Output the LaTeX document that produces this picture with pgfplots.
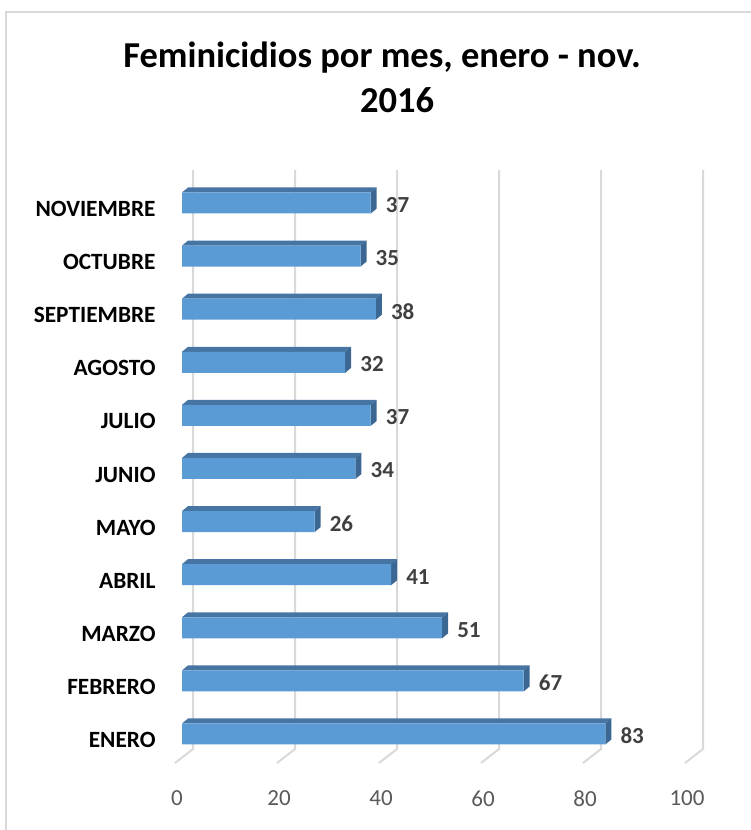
\documentclass[border=0pt]{standalone}
\usepackage{pgfplots}
\usepackage{pgfplotstable}
\pgfplotsset{compat=1.18}
\usepackage{fontspec}
\setmainfont{Carlito}
\definecolor{frontc}{HTML}{5B9BD5}
\definecolor{topc}{HTML}{4674A3}
\definecolor{sidec}{HTML}{3B6792}
\definecolor{gridc}{HTML}{D9D9D9}
\definecolor{tickc}{HTML}{595959}
\definecolor{labc}{HTML}{404040}
\pgfplotstableread{
idx val
0 83
1 67
2 51
3 41
4 26
5 34
6 37
7 32
8 38
9 35
10 37
}\datatable
\begin{document}
\begin{tikzpicture}
\path[use as bounding box] (0pt,0pt) rectangle (751pt,830pt);
\draw[gridc, line width=1.5pt] (6pt,-5pt) -- (6pt,818pt) -- (760pt,818pt);
\node[anchor=base, font=\fontsize{36.5}{44}\selectfont\bfseries] at (382pt,762.4pt) {Feminicidios por mes, enero - nov.};
\node[anchor=base, font=\fontsize{36.5}{44}\selectfont\bfseries] at (397pt,717pt) {2016};
\begin{axis}[
  at={(159.05pt,42.9pt)}, anchor=south west, scale only axis,
  width=583.95pt, height=619.15pt,
  xmin=-4.5, xmax=110, ymin=-1, ymax=10.66,
  axis line style={draw=none}, tick style={draw=none},
  xtick={0,20,40,60,80,100}, xticklabels={0,20,40,60,80,100},
  xticklabel style={font=\fontsize{23}{27}\selectfont, text=tickc, xshift=-5pt},
  ytick={0,1,2,3,4,5,6,7,8,9,10},
  yticklabels={ENERO,FEBRERO,MARZO,ABRIL,MAYO,JUNIO,JULIO,AGOSTO,SEPTIEMBRE,OCTUBRE,NOVIEMBRE},
  yticklabel style={font=\fontsize{23.3}{27}\selectfont\bfseries, text=black, yshift=-6pt},
  clip=false,
  /pgf/number format/assume math mode=true,
]
% gridlines with 3D floor
\pgfplotsinvokeforeach{0,20,40,60,80,100}{
  \pgfmathsetmacro\gb{#1+2.2}
  \pgfmathsetmacro\gf{#1-1.37}
  \edef\temp{\noexpand\addplot[gridc, line width=2pt] coordinates {(\gb,10.62) (\gb,-0.28) (\gf,-0.546)};}
  \temp
}
% top and side faces
\pgfplotsinvokeforeach{0,...,10}{
  \pgfplotstablegetelem{#1}{val}\of\datatable
  \let\vv\pgfplotsretval
  \pgfmathsetmacro\vx{\vv+1.18}
  \pgfmathsetmacro\yt{#1+0.198}
  \pgfmathsetmacro\yb{#1-0.198}
  \pgfmathsetmacro\ytt{#1+0.198+0.094}
  \pgfmathsetmacro\ybb{#1-0.198+0.094}
  \edef\temp{\noexpand\addplot[fill=topc, draw=none] coordinates {(0,\yt) (1.18,\ytt) (\vx,\ytt) (\vv,\yt)} -- cycle;
    \noexpand\addplot[fill=sidec, draw=none] coordinates {(\vv,\yt) (\vx,\ytt) (\vx,\ybb) (\vv,\yb)} -- cycle;}
  \temp
}
\addplot[xbar, bar width=21pt, fill=frontc, draw=none,
  nodes near coords,
  nodes near coords style={anchor=west, inner sep=0pt, xshift=15pt, yshift=-2pt,
    font=\fontsize{23}{27}\selectfont\bfseries, text=labc}]
  table[x=val, y=idx] {\datatable};
\end{axis}
\end{tikzpicture}
\end{document}
